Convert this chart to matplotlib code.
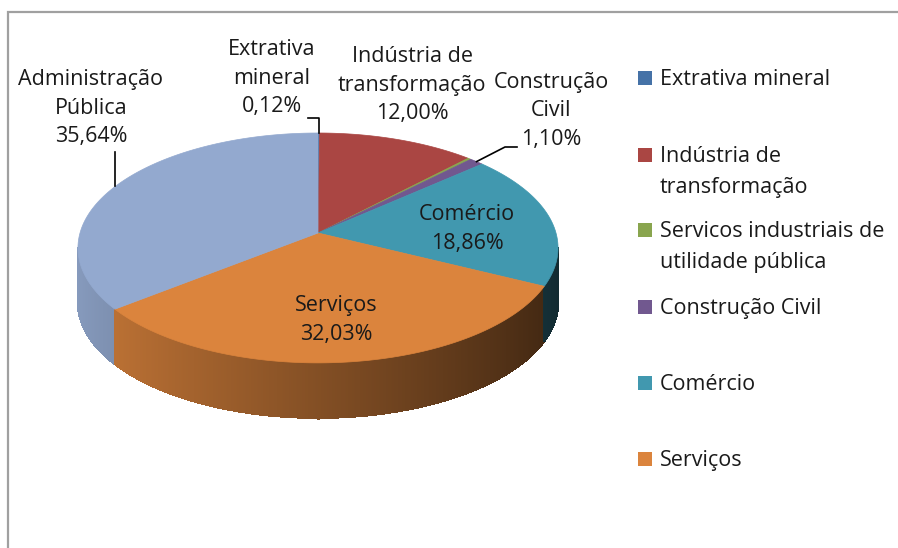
import numpy as np
import matplotlib.pyplot as plt
from matplotlib.collections import PolyCollection
from matplotlib.patches import Polygon, Rectangle
import matplotlib.colors as mcolors

# Data
categories = ["Extrativa mineral", "Indústria de transformação",
              "Servicos industriais de utilidade pública", "Construção Civil",
              "Comércio", "Serviços", "Administração Pública"]
shares = [0.12, 12.00, 0.25, 1.10, 18.86, 32.03, 35.64]
pct_text = ["0,12%", "12,00%", "0,25%", "1,10%", "18,86%", "32,03%", "35,64%"]
legend_labels = ["Extrativa mineral", "Indústria de\ntransformação",
                 "Servicos industriais de\nutilidade pública", "Construção Civil",
                 "Comércio", "Serviços"]
colors = ["#4572A7", "#AA4643", "#89A54E", "#71588F", "#4198AF", "#DB843D", "#93A9CF"]

plt.rcParams['font.family'] = ['Open Sans', 'DejaVu Sans']
FS = 15.5
TXT = "#1a1a1a"

fig = plt.figure(figsize=(8.98, 5.48), dpi=100)
ax = fig.add_axes([0, 0, 1, 1])
ax.set_xlim(0, 898)
ax.set_ylim(548, 0)
ax.axis("off")

# pie geometry (pixel space), simple perspective of a tilted disc
cx, cy, R, B, a, depth = 318, 233, 238, 113, 0.13, 55


def proj(th_deg, dy=0.0):
    th = np.radians(th_deg)
    u, v = np.cos(th), np.sin(th)
    d = 1 + a * v
    return cx + R * u / d, cy - B * v / d + dy


cum = np.concatenate([[0], np.cumsum(shares)]) / sum(shares)
starts = 90 - 360 * cum[:-1]
ends = 90 - 360 * cum[1:]


def slice_of(th):
    # th in degrees (math angle) -> index of slice
    frac = ((90 - th) % 360) / 360
    return min(np.searchsorted(cum, frac, side="right") - 1, len(shares) - 1)


# side wall (only the front-facing part), shaded light -> dark from left to right
lim = np.degrees(np.arcsin(a))
angs = np.linspace(180 + lim, 360 - lim, 500)
quads, qcols = [], []
for t0, t1 in zip(angs[:-1], angs[1:]):
    x0, y0 = proj(t0)
    x1, y1 = proj(t1)
    quads.append([(x0, y0), (x1, y1), (x1, y1 + depth), (x0, y0 + depth)])
    i = slice_of((t0 + t1) / 2)
    u = np.cos(np.radians((t0 + t1) / 2))
    f = 0.60 - 0.32 * u
    base = np.array(mcolors.to_rgb(colors[i]))
    qcols.append(np.clip(base * f, 0, 1))
ax.add_collection(PolyCollection(quads, facecolors=qcols, edgecolors=qcols,
                                 linewidths=0.8, antialiaseds=False))

# top faces
for i in range(len(shares)):
    th = np.linspace(starts[i], ends[i], max(3, int(abs(starts[i] - ends[i]) * 2)))
    pts = [(cx, cy)] + [proj(t) for t in th]
    ax.add_patch(Polygon(pts, closed=True, facecolor=colors[i], edgecolor=colors[i], lw=0.5))

# data labels
label_pos = {0: (272, 78), 1: (412, 85), 3: (551, 111), 4: (467, 229), 5: (336, 320), 6: (91, 108)}
label_names = {0: "Extrativa\nmineral", 1: "Indústria de\ntransformação", 3: "Construção\nCivil",
               4: "Comércio", 5: "Serviços", 6: "Administração\nPública"}
for i, (lx, ly) in label_pos.items():
    ax.text(lx, ly, label_names[i] + "\n" + pct_text[i], ha="center", va="center",
            fontsize=FS, color=TXT, linespacing=1.48)

# leader lines
mid = (starts + ends) / 2
ex, ey = proj(mid[0])
ax.plot([308, ex, ex], [118, 118, ey], color="black", lw=1.2)
ex, ey = proj(mid[3])
ax.plot([517, 505, ex], [147, 147, ey], color="black", lw=1.2)
ex, ey = proj(mid[6])
ax.plot([ex, ex], [152, ey], color="black", lw=1.2)

# legend (last entry does not fit, as in the original)
leg_y = [78, 155, 230, 307, 383, 459]
for i, (lab, y) in enumerate(zip(legend_labels, leg_y)):
    ax.add_patch(Rectangle((638, y - 7), 14, 14, facecolor=colors[i], edgecolor="none"))
    ax.text(660, y - 9, lab, ha="left", va="top", fontsize=FS, color=TXT, linespacing=1.6)

# chart frame
ax.plot([8, 8, 898], [548, 12, 12], color="#a0a0a0", lw=1.6, solid_joinstyle="miter")

fig.savefig("out.png", dpi=100)
